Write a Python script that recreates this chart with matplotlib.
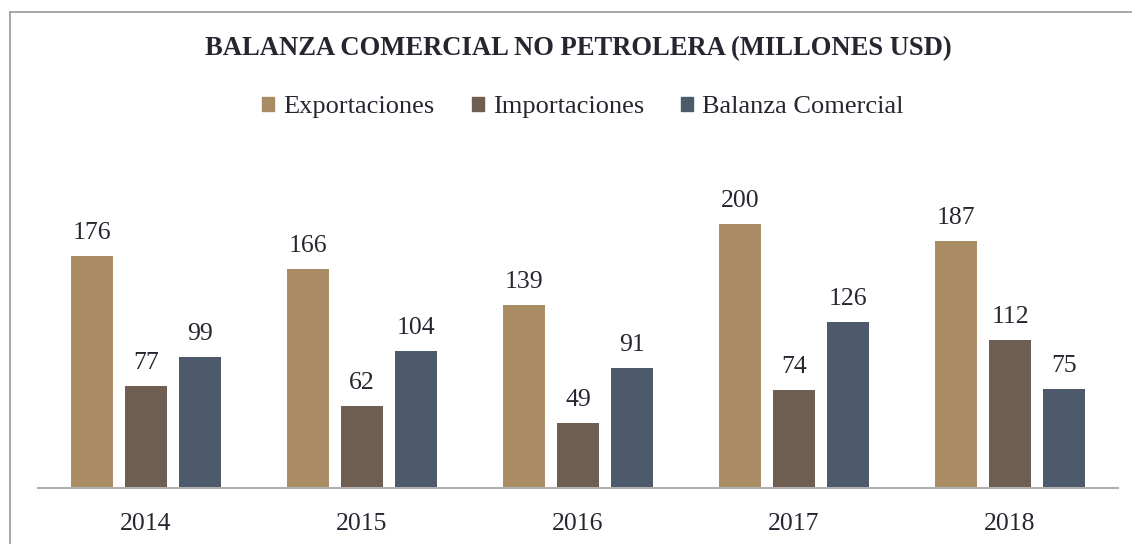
import matplotlib.pyplot as plt
from matplotlib.lines import Line2D
import numpy as np

years = ["2014", "2015", "2016", "2017", "2018"]
exportaciones = [176, 166, 139, 200, 187]
importaciones = [77, 62, 49, 74, 112]
balanza = [99, 104, 91, 126, 75]

series_names = ["Exportaciones", "Importaciones", "Balanza Comercial"]
colors = ["#A98C64", "#6F5E52", "#4C5A6B"]
text_color = "#262630"
W, H = 1132, 544

plt.rcParams["font.family"] = ["Liberation Serif", "DejaVu Serif"]

fig = plt.figure(figsize=(W / 100, H / 100), dpi=100)
ax = fig.add_axes([38 / W, 1 - 488 / H, (1118 - 38) / W, (488 - 158) / H])

x = np.arange(len(years))
bw = 42 / 216
offset = 54 / 216
for i, vals in enumerate([exportaciones, importaciones, balanza]):
    bars = ax.bar(x + (i - 1) * offset, vals, bw, color=colors[i], label=series_names[i])
    for b, v in zip(bars, vals):
        ax.text(b.get_x() + b.get_width() / 2, v + 9, str(v), ha="center", va="bottom",
                fontsize=18.5, color=text_color)

ax.set_xlim(-0.5, len(years) - 0.5)
ax.set_ylim(0, 250)
ax.set_yticks([])
ax.set_xticks(x)
ax.set_xticklabels(years, fontsize=18.5, color=text_color)
ax.tick_params(axis="x", length=0, pad=18)
for s in ["top", "right", "left"]:
    ax.spines[s].set_visible(False)
ax.spines["bottom"].set_color("#b0b0b0")
ax.spines["bottom"].set_linewidth(1.5)

# outer chart frame (only left and top edges visible in the crop)
fig.add_artist(Line2D([9.5 / W, 9.5 / W], [0, 1 - 12 / H], transform=fig.transFigure,
                      color="#a0a0a0", lw=1.3))
fig.add_artist(Line2D([9.5 / W, 1], [1 - 12 / H, 1 - 12 / H], transform=fig.transFigure,
                      color="#a0a0a0", lw=1.3))

fig.text(578 / W, 1 - 49 / H, "BALANZA COMERCIAL NO PETROLERA (MILLONES USD)",
         ha="center", va="center", fontsize=19.2, fontweight="bold", color=text_color)

handles = [plt.Rectangle((0, 0), 1, 1, color=c) for c in colors]
fig.legend(handles, series_names, loc="center", bbox_to_anchor=(583 / W, 1 - 107 / H),
           ncol=3, frameon=False, fontsize=19, handlelength=0.45, handleheight=0.45,
           handletextpad=0.35, columnspacing=1.4, labelcolor=text_color)

fig.savefig("out.png", dpi=100)
